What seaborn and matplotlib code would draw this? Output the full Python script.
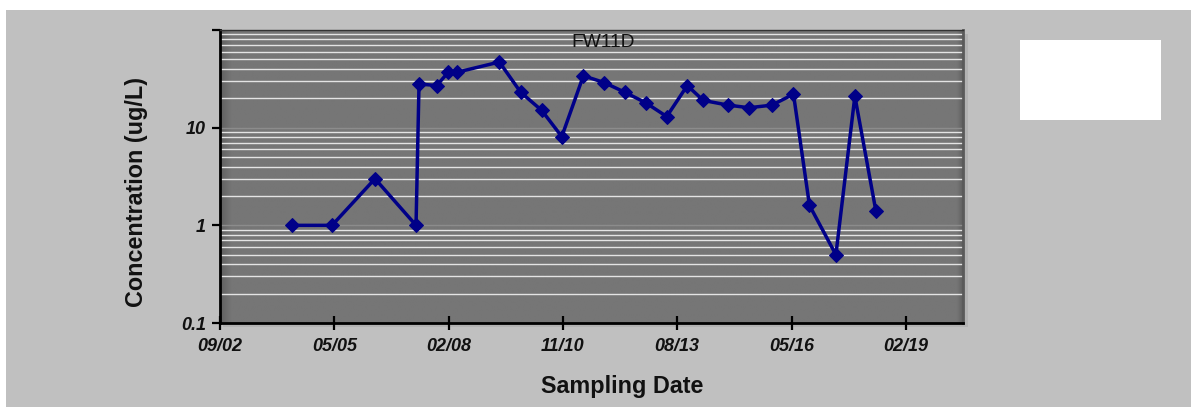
import matplotlib
matplotlib.use("Agg")
import matplotlib.pyplot as plt
import matplotlib.dates as mdates
from matplotlib.patches import Rectangle
from matplotlib.ticker import FixedLocator, NullFormatter
import numpy as np
import pandas as pd
import seaborn as sns

# Sampling record for well FW11D
sample_dates = [
    "2004-05-20", "2005-05-08", "2006-05-19", "2007-05-13", "2007-06-08",
    "2007-11-10", "2008-02-19", "2008-05-08", "2009-05-11", "2009-11-14",
    "2010-05-17", "2010-11-08", "2011-05-16", "2011-11-13", "2012-05-14",
    "2012-11-11", "2013-05-14", "2013-11-10", "2014-03-30", "2014-11-04",
    "2015-05-04", "2015-11-19", "2016-05-27", "2016-10-14", "2017-06-02",
    "2017-11-15", "2018-05-18",
]
concentration = [
    1, 1, 3, 1, 28,
    27, 37, 37, 47, 23,
    15, 8.1, 34, 29, 23,
    18, 13, 27, 19, 17,
    16, 17, 22, 1.6, 0.5,
    21, 1.4,
]
well_name = "FW11D"
x_label = "Sampling Date"
y_label = "Concentration (ug/L)"
y_tick_values = [0.1, 1, 10, 100]
y_tick_labels = ["0.1", "1", "10", ""]
axis_start = "2002-09-01"
tick_step_days = 1000
n_tick_steps = 6.5

df = pd.DataFrame({"date": pd.to_datetime(sample_dates), "conc": concentration})

sns.set_theme(style="white")
plt.rcParams["font.family"] = ["Liberation Sans", "DejaVu Sans"]

W, H = 1191, 407
fig = plt.figure(figsize=(W / 100, H / 100), dpi=100)
fig.patch.set_facecolor("white")

# outer chart area
fig.patches.append(Rectangle((6 / W, 0), 1 - 6 / W, (H - 10) / H,
                             transform=fig.transFigure, facecolor="#c0c0c0",
                             edgecolor="none", zorder=-3))

ax_l, ax_r, ax_t, ax_b = 220, 963, 30, 323
pos = [ax_l / W, (H - ax_b) / H, (ax_r - ax_l) / W, (ax_b - ax_t) / H]

# soft drop shadow behind the plot area
fig.patches.append(Rectangle(((ax_l + 3) / W, (H - ax_b - 4) / H),
                             (ax_r - ax_l + 2) / W, (ax_b - ax_t) / H,
                             transform=fig.transFigure, facecolor="#b2b2b2",
                             edgecolor="none", zorder=-2))

ax = fig.add_axes(pos)
ax.set_zorder(1)
ax.set_facecolor("#767676")

start = mdates.date2num(pd.Timestamp(axis_start))
ax.set_yscale("log")
ax.set_ylim(0.1, 100)

# slight darkening along the left and right edges of the plot area
grad = np.linspace(0, 1, 400)
edge = np.clip(np.minimum(grad * 70, (1 - grad) * 150), 0, 1)
ax.imshow(edge[np.newaxis, :], extent=[0, 1, 0, 1], transform=ax.transAxes,
          cmap=matplotlib.colors.LinearSegmentedColormap.from_list(
              "edge", ["#626262", "#767676"]),
          aspect="auto", zorder=0, interpolation="bilinear")

# horizontal grid lines
for dec in [0.1, 1, 10]:
    for k in range(2, 10):
        ax.axhline(dec * k, color="#e4e4e4", lw=1.0, zorder=1)
for v in [1, 10]:
    ax.axhline(v, color="#8c8c8c", lw=1.0, zorder=1)

sns.lineplot(data=df, x=mdates.date2num(df["date"]), y="conc", ax=ax,
             color="#000088", lw=2.5, marker="D", markersize=6.8,
             markeredgecolor="#000088", zorder=3)

# axes styling
for side in ["left", "bottom"]:
    ax.spines[side].set_color("black")
    ax.spines[side].set_linewidth(2)
ax.spines["top"].set_color("#333333")
ax.spines["top"].set_linewidth(1)
ax.spines["right"].set_color("#5a5a5a")
ax.spines["right"].set_linewidth(2)

tick_font = dict(fontsize=13, fontweight="bold", fontstyle="italic",
                 color="#111111")
ax.set_yticks(y_tick_values, y_tick_labels, **tick_font)
ax.yaxis.set_minor_locator(FixedLocator([]))
ax.yaxis.set_minor_formatter(NullFormatter())

xticks = [start + i * tick_step_days for i in range(int(n_tick_steps) + 1)]
xtick_labels = [mdates.num2date(t).strftime("%m/%y") for t in xticks]
ax.set_xticks(xticks, xtick_labels, **tick_font)
ax.set_xlim(start, start + n_tick_steps * tick_step_days)

ax.tick_params(axis="y", which="major", direction="out", length=6, width=1.6,
               color="black", pad=4, left=True)
ax.tick_params(axis="x", which="major", direction="inout", length=10, width=1.6,
               color="black", pad=6, bottom=True)

ax.set_xlabel("")
ax.set_ylabel("")
fig.text(137 / W, 1 - 192 / H, y_label, rotation=90, ha="center", va="center",
         fontsize=16.8, fontweight="bold", color="#111111")
fig.text(622 / W, 1 - 386 / H, x_label, ha="center", va="center",
         fontsize=16.8, fontweight="bold", color="#111111")
ax.text(0.515, 0.985, well_name, transform=ax.transAxes, ha="center", va="top",
        fontsize=13.8, color="#111111", zorder=4)

# empty legend box
fig.patches.append(Rectangle((1020 / W, 1 - 120 / H), 141 / W, 80 / H,
                             transform=fig.transFigure, facecolor="white",
                             edgecolor="none", zorder=1))

fig.savefig("out.png", dpi=100, facecolor=fig.get_facecolor())
